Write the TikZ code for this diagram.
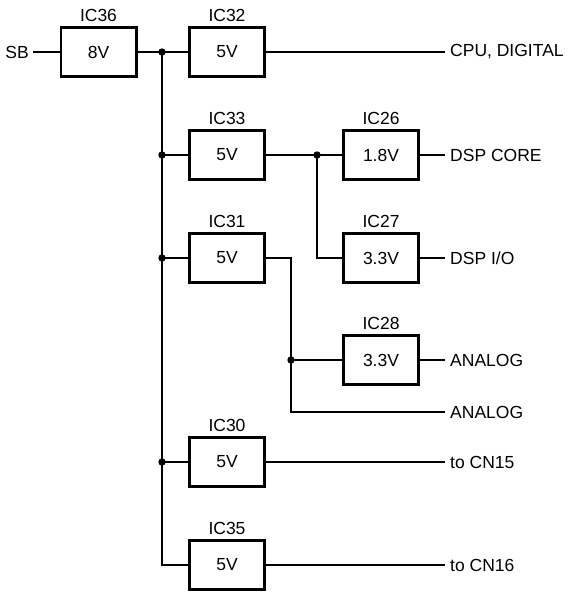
\documentclass[tikz,border=0pt]{standalone}
\usepackage{fontspec}
\setmainfont{Liberation Sans}
\begin{document}
\begin{tikzpicture}[x=1pt,y=-1pt,
  font=\fontsize{17.5}{20}\selectfont,
  icbox/.style={draw, line width=2.6pt, minimum width=75.4pt, minimum height=49.4pt, inner sep=0pt,
    label={[label distance=4.5pt, inner sep=0pt]above:#1}},
  wire/.style={line width=1.4pt},
  outtext/.style={anchor=west, inner xsep=5pt, inner ysep=0pt},
  jdot/.style={circle, fill, inner sep=0pt, minimum size=7.4pt}]
\useasboundingbox (0,0) rectangle (569,592);
% boxes
\node[icbox=IC36] (ic36) at (98.5,52) {8V};
\node[icbox=IC32] (ic32) at (227,52) {5V};
\node[icbox=IC33] (ic33) at (227,155) {5V};
\node[icbox=IC31] (ic31) at (227,258) {5V};
\node[icbox=IC30] (ic30) at (227,462) {5V};
\node[icbox=IC35] (ic35) at (227,565) {5V};
\node[icbox=IC26] (ic26) at (381,155) {1.8V};
\node[icbox=IC27] (ic27) at (381,258) {3.3V};
\node[icbox=IC28] (ic28) at (381,360) {3.3V};
% texts
\node[anchor=east, inner xsep=4pt, inner ysep=0pt] (sb) at (33,52) {SB};
\node[outtext] (cpu) at (445,52) {CPU, DIGITAL};
\node[outtext] (dspc) at (445,155) {DSP CORE};
\node[outtext] (dspio) at (445,258) {DSP I/O};
\node[outtext] (an1) at (445,360) {ANALOG};
\node[outtext] (an2) at (445,412) {ANALOG};
\node[outtext] (cn15) at (445,462) {to CN15};
\node[outtext] (cn16) at (445,565) {to CN16};
% junctions
\node[jdot] (j1) at (162,52) {};
\node[jdot] (j2) at (162,155) {};
\node[jdot] (j3) at (162,258) {};
\node[jdot] (j4) at (162,462) {};
\coordinate (c1) at (162,565);
\node[jdot] (j5) at (317,155) {};
\coordinate (c2) at (317,258);
\coordinate (c3) at (291,258);
\node[jdot] (j6) at (291,360) {};
\coordinate (c4) at (291,412);
% wires
\draw[wire] (sb.east) -- (ic36.west);
\draw[wire] (ic36.east) -- (j1.center) -- (ic32.west);
\draw[wire] (j1.center) -- (c1) -- (ic35.west);
\draw[wire] (j2.center) -- (ic33.west);
\draw[wire] (j3.center) -- (ic31.west);
\draw[wire] (j4.center) -- (ic30.west);
\draw[wire] (ic32.east) -- (cpu.west);
\draw[wire] (ic33.east) -- (j5.center) -- (ic26.west);
\draw[wire] (j5.center) -- (c2) -- (ic27.west);
\draw[wire] (ic26.east) -- (dspc.west);
\draw[wire] (ic27.east) -- (dspio.west);
\draw[wire] (ic31.east) -- (c3) -- (c4) -- (an2.west);
\draw[wire] (j6.center) -- (ic28.west);
\draw[wire] (ic28.east) -- (an1.west);
\draw[wire] (ic30.east) -- (cn15.west);
\draw[wire] (ic35.east) -- (cn16.west);
\end{tikzpicture}
\end{document}
